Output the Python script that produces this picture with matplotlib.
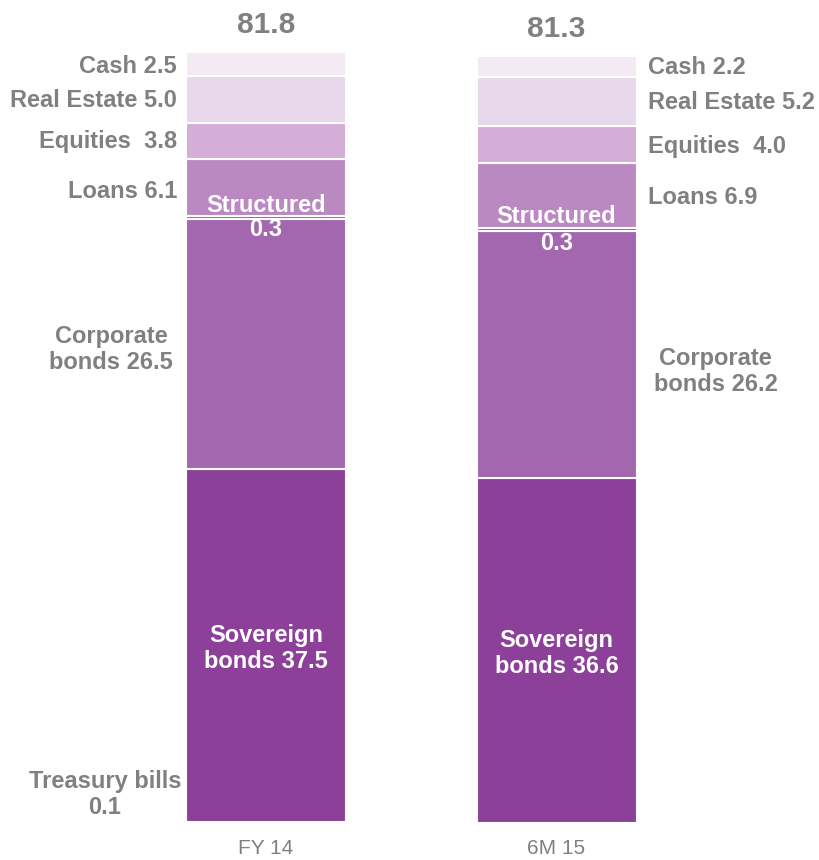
import matplotlib
matplotlib.use("Agg")
import matplotlib.pyplot as plt
import numpy as np

plt.rcParams['font.family'] = ['Liberation Sans', 'DejaVu Sans']

periods = ["FY 14", "6M 15"]
totals = [81.8, 81.3]
segments = ["Treasury bills", "Sovereign bonds", "Corporate bonds", "Structured",
            "Loans", "Equities", "Real Estate", "Cash"]
fy14 = [0.1, 37.5, 26.5, 0.3, 6.1, 3.8, 5.0, 2.5]
m6_15 = [0.0, 36.6, 26.2, 0.3, 6.9, 4.0, 5.2, 2.2]
colors = ["#C9A3CF", "#8D4099", "#A367AF", "#9A55A6", "#BB89C2",
          "#D4AED7", "#E8D8EB", "#F3EAF4"]

grey = "#808080"
W, H = 819, 860
fig = plt.figure(figsize=(W / 100, H / 100), dpi=100)
bottom_px, top_px = 823, 52
ax = fig.add_axes([0, (H - bottom_px) / H, 1, (bottom_px - top_px) / H])
ax.set_ylim(0, totals[0])
gap = 290.5
ax.set_xlim(-266 / gap, (W - 266) / gap)
ax.axis("off")

x = np.arange(len(periods))
width = 160 / gap
values = np.array([fy14, m6_15])
bottoms = np.zeros(len(periods))
for j, name in enumerate(segments):
    ax.bar(x, values[:, j], width, bottom=bottoms, color=colors[j],
           edgecolor="white", linewidth=1.5)
    bottoms += values[:, j]

fs = 17
lab = dict(color=grey, fontsize=fs, fontweight="bold", va="center")
inside = dict(color="white", fontsize=fs, fontweight="bold", va="center", ha="center")
ls = 1.15

def seg_mid(vals, k):
    return sum(vals[:k]) + vals[k] / 2

# side labels: left of first bar, right of second bar
side = [(4, "Loans"), (5, "Equities "), (6, "Real Estate"), (7, "Cash")]
shifts0 = {4: -0.5, 5: -0.1, 6: -0.1, 7: -0.3}
shifts1 = {4: -0.2, 5: -0.2, 6: -0.2, 7: -0.1}
xl = x[0] - width / 2 - 9 / gap
xr = x[1] + width / 2 + 12 / gap
for k, name in side:
    ax.text(xl, seg_mid(fy14, k) + shifts0[k], f"{name} {fy14[k]:.1f}", ha="right", **lab)
    ax.text(xr, seg_mid(m6_15, k) + shifts1[k], f"{name} {m6_15[k]:.1f}", ha="left", **lab)

ax.text(x[0] - width / 2 - 75 / gap, seg_mid(fy14, 2) - 0.6,
        f"Corporate\nbonds {fy14[2]:.1f}", ha="center", linespacing=ls, **lab)
ax.text(x[1] + width / 2 + 79 / gap, seg_mid(m6_15, 2) - 1.8,
        f"Corporate\nbonds {m6_15[2]:.1f}", ha="center", linespacing=ls, **lab)
ax.text(x[0] - width / 2 - 81 / gap, 3.0,
        f"Treasury bills\n{fy14[0]:.1f}", ha="center", linespacing=ls, **lab)

# labels inside the bars
for i, vals in enumerate([fy14, m6_15]):
    ax.text(x[i], seg_mid(vals, 1) - 0.3, f"Sovereign\nbonds {vals[1]:.1f}",
            linespacing=ls, **inside)
    s = seg_mid(vals, 3)
    d = 1.3 + 0.15 * i
    ax.text(x[i], s + d, "Structured", **inside)
    ax.text(x[i], s - d, f"{vals[3]:.1f}", **inside)

# totals above bars
for i, t in enumerate(totals):
    ax.text(x[i], t + 2.9, f"{t:.1f}", ha="center", va="center",
            color=grey, fontsize=21.5, fontweight="bold")

# period labels
for i, p in enumerate(periods):
    ax.text(x[i], -2.75, p, ha="center", va="center", color=grey, fontsize=15)

fig.savefig("out.png", dpi=100)
